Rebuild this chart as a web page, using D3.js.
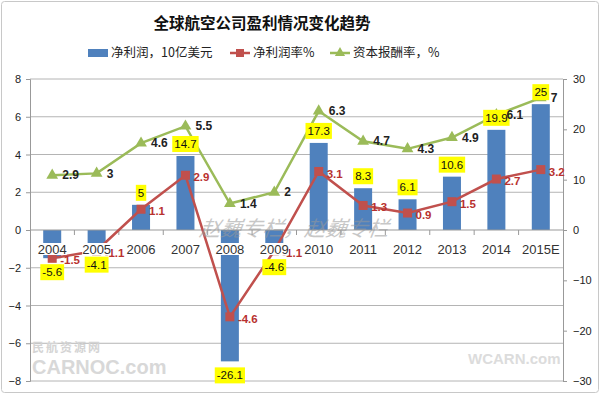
<!DOCTYPE html>
<html>
<head>
<meta charset="utf-8">
<script src="https://cdn.jsdelivr.net/npm/d3@7"></script>
<style>
  body { margin: 0; background: #fff; }
  svg { display: block; }
</style>
</head>
<body>
<div id="chart"></div>
<script>
// Data
const categories = ['2004', '2005', '2006', '2007', '2008', '2009', '2010', '2011', '2012', '2013', '2014', '2015E'];
const netProfit = [-5.6, -4.1, 5, 14.7, -26.1, -4.6, 17.3, 8.3, 6.1, 10.6, 19.9, 25]; // right axis
const netMargin = [-1.5, -1.1, 1.1, 2.9, -4.6, -1.1, 3.1, 1.3, 0.9, 1.5, 2.7, 3.2]; // left axis
const roic = [2.9, 3, 4.6, 5.5, 1.4, 2, 6.3, 4.7, 4.3, 4.9, 6.1, 7]; // left axis
const leftTicks = [-8, -6, -4, -2, 0, 2, 4, 6, 8];
const rightTicks = [-30, -20, -10, 0, 10, 20, 30];
const seriesNames = ['净利润，10亿美元', '净利润率%', '资本报酬率，%'];

const width = 600, height = 395;
const margin = { top: 79, right: 37, bottom: 14, left: 30 };
const innerW = width - margin.left - margin.right;
const innerH = height - margin.top - margin.bottom;

const blue = '#4f81bd', red = '#c0504d', green = '#9bbb59';
const numFont = '"Liberation Sans", Arial, sans-serif';
const cjkFont = '"Noto Sans CJK SC", sans-serif';

const svg = d3.select('#chart').append('svg')
    .attr('width', width)
    .attr('height', height);

// Outer frame
svg.append('rect')
    .attr('x', 1.5).attr('y', 1.5)
    .attr('width', width - 3).attr('height', height - 4)
    .attr('rx', 3)
    .attr('fill', '#fff')
    .attr('stroke', '#c8c8c8');

const g = svg.append('g')
    .attr('transform', `translate(${margin.left},${margin.top})`);

// Scales
const xBand = d3.scaleBand().domain(categories).range([0, innerW]);
const yLeft = d3.scaleLinear().domain([-8, 8]).range([innerH, 0]);
const yRight = d3.scaleLinear().domain([-30, 30]).range([innerH, 0]);
const cx = c => xBand(c) + xBand.bandwidth() / 2;

// Gridlines
g.append('g')
    .selectAll('line')
    .data(leftTicks.filter(d => d !== 0))
    .join('line')
    .attr('x1', 0).attr('x2', innerW)
    .attr('y1', d => yLeft(d)).attr('y2', d => yLeft(d))
    .attr('stroke', '#b4b4b4')
    .attr('stroke-width', 1);

// Left axis
const leftAxis = g.append('g')
    .call(d3.axisLeft(yLeft).tickValues(leftTicks).tickSize(4).tickFormat(d3.format('d')));
leftAxis.select('.domain').attr('stroke', '#999');
leftAxis.selectAll('.tick line').attr('stroke', '#999');
leftAxis.selectAll('text')
    .attr('font-family', numFont).attr('font-size', 11).attr('fill', '#222')
    .attr('x', -9);

// Right axis
const rightAxis = g.append('g')
    .attr('transform', `translate(${innerW},0)`)
    .call(d3.axisRight(yRight).tickValues(rightTicks).tickSize(4));
rightAxis.select('.domain').attr('stroke', '#999');
rightAxis.selectAll('.tick line').attr('stroke', '#999');
rightAxis.selectAll('text')
    .attr('font-family', numFont).attr('font-size', 11).attr('fill', '#222')
    .attr('x', 10);

// Bars (right axis)
g.append('g')
    .selectAll('rect')
    .data(categories)
    .join('rect')
    .attr('x', c => cx(c) - 9)
    .attr('width', 18)
    .attr('y', (c, i) => yRight(Math.max(0, netProfit[i])))
    .attr('height', (c, i) => Math.abs(yRight(netProfit[i]) - yRight(0)))
    .attr('fill', blue);

// Zero line + category ticks
g.append('line')
    .attr('x1', 0).attr('x2', innerW)
    .attr('y1', yLeft(0)).attr('y2', yLeft(0))
    .attr('stroke', '#999');
g.append('g')
    .selectAll('line')
    .data(categories.slice(1))
    .join('line')
    .attr('x1', c => xBand(c)).attr('x2', c => xBand(c))
    .attr('y1', yLeft(0)).attr('y2', yLeft(0) + 5)
    .attr('stroke', '#999');

// Watermark text
svg.append('text')
    .attr('x', 200).attr('y', 236)
    .attr('font-family', cjkFont).attr('font-size', 21).attr('font-style', 'italic')
    .attr('fill', '#9a9a9a').attr('opacity', 0.55)
    .attr('transform', 'skewX(-8) translate(32,0)')
    .text('赵巍专栏，赵巍专栏');

// Lines (left axis)
const line = vals => d3.line()
    .x((d, i) => cx(categories[i]))
    .y(d => yLeft(d))(vals);

g.append('path')
    .attr('d', line(roic))
    .attr('fill', 'none').attr('stroke', green).attr('stroke-width', 2.5);
g.append('path')
    .attr('d', line(netMargin))
    .attr('fill', 'none').attr('stroke', red).attr('stroke-width', 2.5);

const tri = d3.symbol().type(d3.symbolTriangle).size(60);
g.append('g')
    .selectAll('path')
    .data(roic)
    .join('path')
    .attr('d', tri)
    .attr('transform', (d, i) => `translate(${cx(categories[i])},${yLeft(d)})`)
    .attr('fill', green);

g.append('g')
    .selectAll('rect')
    .data(netMargin)
    .join('rect')
    .attr('x', (d, i) => cx(categories[i]) - 4.5)
    .attr('y', d => yLeft(d) - 4.5)
    .attr('width', 9).attr('height', 9)
    .attr('fill', red);

// Net margin labels
g.append('g')
    .selectAll('text')
    .data(netMargin)
    .join('text')
    .attr('x', (d, i) => cx(categories[i]) + 8)
    .attr('y', d => yLeft(d) + 2)
    .attr('dy', '0.35em')
    .attr('font-family', numFont).attr('font-size', 11.5).attr('font-weight', 'bold').attr('fill', '#b8312f')
    .text(d => d);

// Category labels, on a white ground as in the original
const catLabels = g.append('g')
    .selectAll('g')
    .data(categories)
    .join('g')
    .attr('transform', c => `translate(${cx(c)},${yLeft(0) + 19})`);
catLabels.append('text')
    .attr('text-anchor', 'middle')
    .attr('dy', '0.35em')
    .attr('font-family', numFont).attr('font-size', 13).attr('fill', '#333')
    .text(c => c);
catLabels.each(function () {
    const b = d3.select(this).select('text').node().getBBox();
    d3.select(this).insert('rect', 'text')
        .attr('x', b.x).attr('y', -6)
        .attr('width', b.width).attr('height', 12)
        .attr('fill', '#fff');
});

// Bar labels in yellow boxes
const barLabels = g.append('g')
    .selectAll('g')
    .data(netProfit)
    .join('g')
    .attr('transform', (d, i) => {
        const yEnd = yRight(d);
        const yc = d >= 0 ? yEnd - 12 : yEnd + 14;
        return `translate(${cx(categories[i])},${yc})`;
    });
barLabels.append('text')
    .attr('text-anchor', 'middle')
    .attr('dy', '0.35em')
    .attr('font-family', numFont).attr('font-size', 11.5).attr('fill', '#111')
    .text(d => d);
barLabels.each(function () {
    const b = d3.select(this).select('text').node().getBBox();
    d3.select(this).insert('rect', 'text')
        .attr('x', b.x - 2).attr('y', -8)
        .attr('width', b.width + 4).attr('height', 16)
        .attr('fill', '#ffff00');
});

// ROIC labels
g.append('g')
    .selectAll('text')
    .data(roic)
    .join('text')
    .attr('x', (d, i) => cx(categories[i]) + 10)
    .attr('y', d => yLeft(d))
    .attr('dy', '0.35em')
    .attr('font-family', numFont).attr('font-size', 12).attr('font-weight', 'bold').attr('fill', '#222')
    .text(d => d);

// Faint site watermarks
svg.append('text')
    .attr('x', 32).attr('y', 352)
    .attr('font-family', cjkFont).attr('font-size', 12).attr('font-weight', 'bold')
    .attr('fill', '#d4d4d4').attr('letter-spacing', 2)
    .text('民航资源网');
svg.append('text')
    .attr('x', 32).attr('y', 374)
    .attr('font-family', numFont).attr('font-size', 20).attr('font-weight', 'bold')
    .attr('fill', '#d8d8d8')
    .text('CARNOC.com');
svg.append('text')
    .attr('x', 468).attr('y', 364)
    .attr('font-family', numFont).attr('font-size', 15).attr('font-weight', 'bold')
    .attr('fill', '#dcdcdc')
    .text('WCARN.com');

// Title
svg.append('text')
    .attr('x', 262).attr('y', 29)
    .attr('text-anchor', 'middle')
    .attr('font-family', cjkFont).attr('font-size', 15.5).attr('font-weight', 'bold')
    .attr('fill', '#111')
    .text('全球航空公司盈利情况变化趋势');

// Legend
const legend = svg.append('g').attr('transform', 'translate(0,53)');
legend.append('rect')
    .attr('x', 88).attr('y', -4).attr('width', 20).attr('height', 8)
    .attr('fill', blue);
legend.append('text')
    .attr('x', 111).attr('dy', '0.35em')
    .attr('font-family', cjkFont).attr('font-size', 12.5).attr('fill', '#222')
    .text(seriesNames[0]);

legend.append('line')
    .attr('x1', 230).attr('x2', 250)
    .attr('stroke', red).attr('stroke-width', 2.5);
legend.append('rect')
    .attr('x', 236).attr('y', -4).attr('width', 8).attr('height', 8)
    .attr('fill', red);
legend.append('text')
    .attr('x', 253).attr('dy', '0.35em')
    .attr('font-family', cjkFont).attr('font-size', 12.5).attr('fill', '#222')
    .text(seriesNames[1]);

legend.append('line')
    .attr('x1', 330).attr('x2', 350)
    .attr('stroke', green).attr('stroke-width', 2.5);
legend.append('path')
    .attr('d', d3.symbol().type(d3.symbolTriangle).size(45))
    .attr('transform', 'translate(340,0)')
    .attr('fill', green);
legend.append('text')
    .attr('x', 353).attr('dy', '0.35em')
    .attr('font-family', cjkFont).attr('font-size', 12.5).attr('fill', '#222')
    .text(seriesNames[2]);
</script>
</body>
</html>
